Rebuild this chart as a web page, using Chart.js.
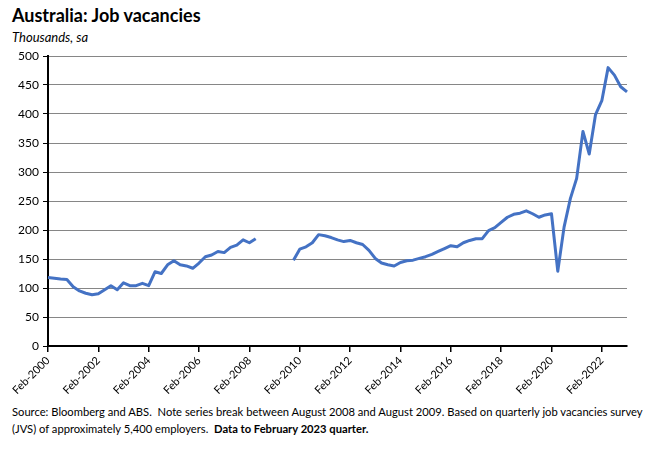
<!DOCTYPE html>
<html>
<head>
<meta charset="utf-8">
<script src="https://cdn.jsdelivr.net/npm/chart.js@4"></script>
<style>
  body { margin: 0; background: #fff; width: 647px; height: 452px; overflow: hidden; font-family: Lato, 'Noto Sans', sans-serif; color: #000; }
  .title { position: absolute; left: 12px; top: 4px; font-size: 18px; font-weight: bold; }
  .sub { position: absolute; left: 12px; top: 29px; font-size: 13px; font-style: italic; }
  .chart-box { position: absolute; left: 0; top: 44px; width: 647px; height: 356px; }
  .note { position: absolute; left: 12px; top: 403px; font-size: 11.2px; line-height: 17px; white-space: nowrap; }
</style>
</head>
<body>
<div class="title">Australia: Job vacancies</div>
<div class="sub">Thousands, sa</div>
<div class="chart-box"><canvas id="vacChart"></canvas></div>
<div class="note">Source: Bloomberg and ABS.&nbsp; Note series break between August 2008 and August 2009. Based on quarterly job vacancies survey<br>(JVS) of approximately 5,400 employers.&nbsp; <b>Data to February 2023 quarter.</b></div>
<script>
// Quarterly categories, Feb-2000 .. Feb-2023
const quarterMonths = ['Feb', 'May', 'Aug', 'Nov'];
const firstYear = 2000;
const lastYear = 2023;
const quarters = [];
for (let y = firstYear; y <= lastYear; y++) {
    quarterMonths.forEach(m => {
        if (y < lastYear || m === 'Feb') quarters.push(m + '-' + y);
    });
}

// Job vacancies, thousands, sa (null = series break Aug 2008 - Aug 2009)
const vacancies = [
    118, 117, 115.5, 114.5,   // 2000
    102, 95, 91, 88.5,        // 2001
    90, 97, 104, 97,          // 2002
    109, 104, 104, 108,       // 2003
    104, 128, 125, 140,       // 2004
    147, 140, 138, 134,       // 2005
    143, 154, 157, 163,       // 2006
    161, 170, 174, 183,       // 2007
    178, 185, null, null,     // 2008
    null, null, null, 148,    // 2009
    167, 171, 178, 192,       // 2010
    190, 187, 183, 180,       // 2011
    182, 178, 175, 165,       // 2012
    151, 143, 140, 138,       // 2013
    144, 147, 148, 151,       // 2014
    154, 158, 163, 168,       // 2015
    173, 171, 178, 182,       // 2016
    185, 185, 199, 204,       // 2017
    213, 222, 227, 229,       // 2018
    233, 228, 222, 226,       // 2019
    228, 129, 205, 254,       // 2020
    289, 370, 331, 399,       // 2021
    423, 480, 467, 447,       // 2022
    438                       // 2023
];

// Axis settings
const yTicks = { min: 0, max: 500, step: 50 };
const labelEvery = 8; // every 2 years

function initChart() {
    const el = document.getElementById('vacChart');
    new Chart(el, {
        type: 'line',
        data: {
            labels: quarters,
            datasets: [{
                data: vacancies,
                borderColor: '#4472C4',
                borderWidth: 3,
                pointRadius: 0,
                tension: 0,
                spanGaps: false,
                borderJoinStyle: 'round'
            }]
        },
        options: {
            responsive: true,
            maintainAspectRatio: false,
            animation: false,
            layout: { padding: { top: 12, right: 20, left: 0, bottom: 0 } },
            plugins: {
                legend: { display: false },
                tooltip: { enabled: false }
            },
            scales: {
                x: {
                    offset: false,
                    afterFit: s => { s.height = 54; },
                    ticks: {
                        autoSkip: false,
                        maxRotation: 45,
                        minRotation: 45,
                        color: '#000',
                        font: { family: 'Lato', size: 11 },
                        padding: 2,
                        callback: (v, i) => (i % labelEvery === 0 ? quarters[i] : null)
                    },
                    grid: {
                        drawOnChartArea: false,
                        drawTicks: true,
                        tickLength: 6,
                        color: '#000',
                        lineWidth: 1.5
                    },
                    border: { color: '#000', width: 2 }
                },
                y: {
                    min: yTicks.min,
                    max: yTicks.max,
                    afterFit: s => { s.width = 48; },
                    ticks: {
                        stepSize: yTicks.step,
                        color: '#000',
                        font: { family: 'Lato', size: 12 },
                        padding: 4
                    },
                    grid: {
                        color: '#868686',
                        lineWidth: 1,
                        tickLength: 5,
                        tickColor: '#000'
                    },
                    border: { color: '#000', width: 2 }
                }
            }
        }
    });
}

document.addEventListener('DOMContentLoaded', initChart);
</script>
</body>
</html>
